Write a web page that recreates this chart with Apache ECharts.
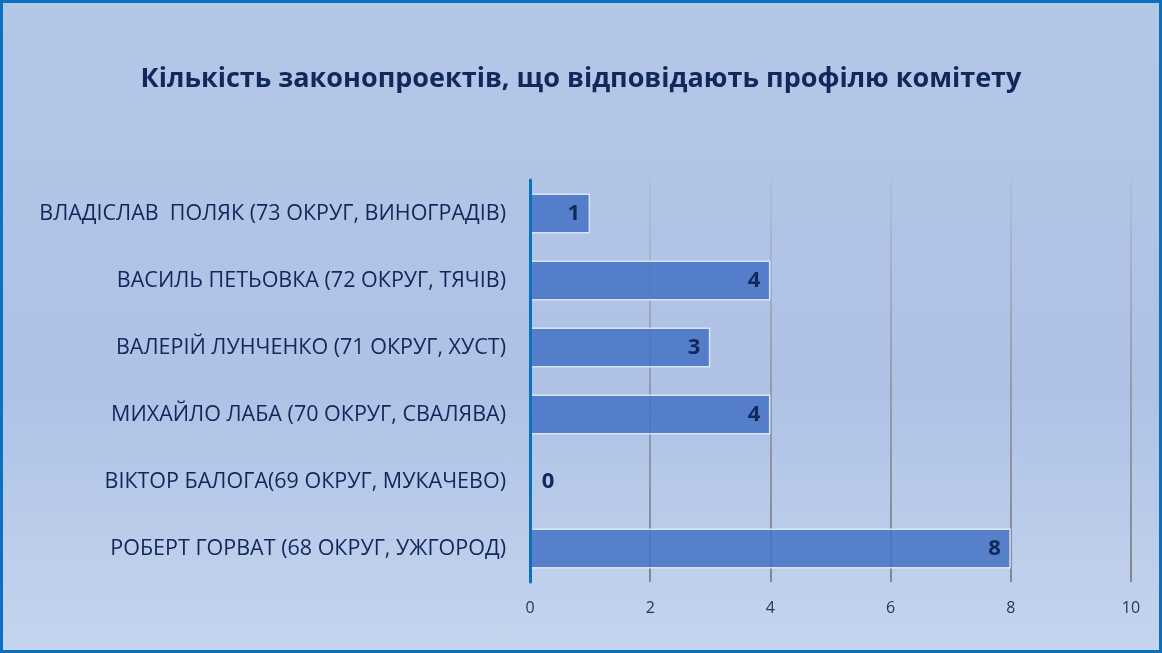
<!DOCTYPE html>
<html>
<head>
<meta charset="utf-8">
<title>Кількість законопроектів</title>
<script src="https://cdn.jsdelivr.net/npm/echarts@6/dist/echarts.min.js"></script>
<style>
html, body { margin: 0; padding: 0; }
body {
    width: 1162px; height: 653px; box-sizing: border-box;
    border: 3px solid #0A70C0;
    background: linear-gradient(to bottom, #B4C7E7 0%, #AFC2E6 60%, #C6D5EE 100%);
}
#main { width: 1156px; height: 647px; }
</style>
</head>
<body>
<div id="main"></div>
<script type="text/javascript">
// депутати, зверху вниз
var deputies = [
    'ВЛАДІСЛАВ  ПОЛЯК (73 ОКРУГ, ВИНОГРАДІВ)',
    'ВАСИЛЬ ПЕТЬОВКА (72 ОКРУГ, ТЯЧІВ)',
    'ВАЛЕРІЙ ЛУНЧЕНКО (71 ОКРУГ, ХУСТ)',
    'МИХАЙЛО ЛАБА (70 ОКРУГ, СВАЛЯВА)',
    'ВІКТОР БАЛОГА(69 ОКРУГ, МУКАЧЕВО)',
    'РОБЕРТ ГОРВАТ (68 ОКРУГ, УЖГОРОД)'
];
var billCounts = [1, 4, 3, 4, 0, 8];
var xTicks = [0, 2, 4, 6, 8, 10];

var myChart = echarts.init(document.getElementById('main'));

var barData = billCounts.map(function (v) {
    if (v === 0) {
        return { value: v, label: { position: 'right', distance: 11 } };
    }
    return v;
});

var option = {
    animation: false,
    title: {
        text: 'Кількість законопроектів, що відповідають профілю комітету',
        left: 'center',
        top: 58,
        textStyle: {
            fontFamily: 'Open Sans',
            fontSize: 27,
            fontWeight: 'bold',
            color: '#10285A'
        }
    },
    grid: { left: 527, right: 28, top: 177, bottom: 68 },
    xAxis: {
        type: 'value',
        min: 0,
        max: 10,
        interval: 2,
        axisLine: { show: false },
        axisTick: { show: false },
        axisLabel: {
            margin: 18,
            fontFamily: 'Open Sans',
            fontSize: 16,
            color: '#1F3864',
            formatter: function (v) { return xTicks.indexOf(v) >= 0 ? String(v) : ''; }
        },
        splitLine: {
            lineStyle: {
                width: 1.5,
                color: new echarts.graphic.LinearGradient(0, 177, 0, 579, [
                    { offset: 0, color: 'rgba(128,128,128,0.1)' },
                    { offset: 0.5, color: 'rgba(128,128,128,0.75)' },
                    { offset: 1, color: 'rgba(110,110,110,1)' }
                ], true)
            }
        }
    },
    yAxis: {
        type: 'category',
        inverse: true,
        z: 5,
        data: deputies,
        axisLine: { show: true, lineStyle: { color: '#0A70C0', width: 3 } },
        axisTick: { show: false },
        axisLabel: {
            margin: 24,
            fontFamily: 'Open Sans',
            fontSize: 21.5,
            color: '#10285A'
        }
    },
    series: [{
        type: 'bar',
        data: barData,
        barWidth: '60%',
        itemStyle: {
            color: 'rgba(68,114,196,0.85)',
            borderColor: 'rgba(225,235,250,0.9)',
            borderWidth: 1.5
        },
        label: {
            show: true,
            position: 'insideRight',
            distance: 10,
            fontFamily: 'Open Sans',
            fontSize: 22,
            fontWeight: 'bold',
            color: '#10285A'
        }
    }]
};
myChart.setOption(option);
</script>
</body>
</html>
